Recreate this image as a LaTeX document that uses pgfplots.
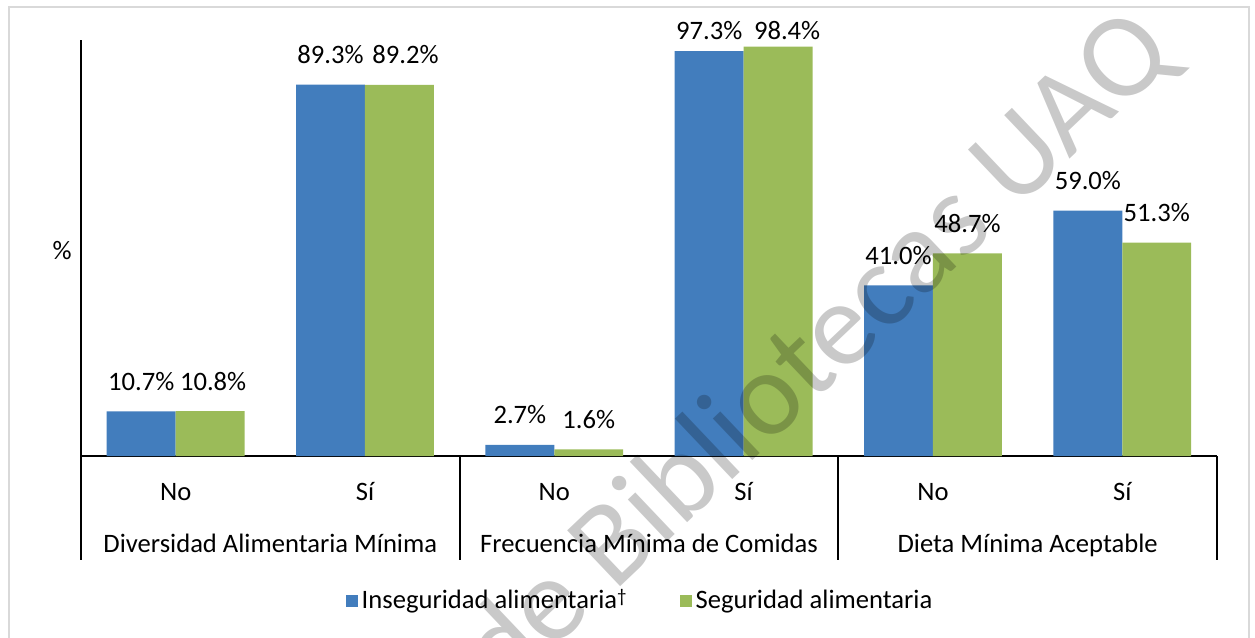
\documentclass[border=0pt]{standalone}
\usepackage{fontspec}
\setmainfont{Carlito}
\usepackage{pgfplots}
\pgfplotsset{compat=1.18}

\definecolor{xlblue}{RGB}{66,125,189}
\definecolor{xlgreen}{RGB}{155,187,89}
\definecolor{framegray}{RGB}{217,217,217}

% x, value, label shift (pt) where Excel nudged a label aside
\pgfplotstableread{
x  y     sh
0  10.7  0
1  89.3  0
2  2.7   0
3  97.3  0
4  41.0  0
5  59.0  0
}\inseguridad
\pgfplotstableread{
x  y     sh
0  10.8  1.5
1  89.2  3
2  1.6   0
3  98.4  4.5
4  48.7  0
5  51.3  0
}\seguridad

\begin{document}
\fontsize{13.3}{16}\selectfont
\begin{tikzpicture}
\useasboundingbox (0,0) rectangle (627.5pt,319pt);
% chart frame (bottom edge lies outside the picture)
\draw[framegray, line width=0.8pt] (4.5pt,-2pt) -- (4.5pt,315.5pt) -- (624.5pt,315.5pt) -- (624.5pt,-2pt);

\begin{axis}[
  at={(40.5pt,91pt)}, anchor=south west,
  scale only axis, width=568pt, height=208pt,
  xmin=-0.5, xmax=5.5, ymin=0, ymax=100,
  axis x line*=bottom, axis y line*=left,
  axis line style={black, line width=1pt, -},
  xtick=\empty, ytick=\empty,
  ybar=0pt, bar width=0.364,
  clip=false,
  /pgf/number format/assume math mode=true,
  visualization depends on=y \as \rawy,
  visualization depends on=\thisrow{sh} \as \lblshift,
  nodes near coords={\pgfmathprintnumber[fixed,fixed zerofill,precision=1]{\pgfplotspointmeta}\%},
  nodes near coords style={anchor=base, black, font=\fontsize{13.3}{16}\selectfont,
    yshift={min(10.5pt,(100.2-\rawy)*2.08pt)}, xshift=\lblshift pt},
  legend image code/.code={\fill[#1] (0pt,-3pt) rectangle (6pt,3pt);},
  legend style={at={(0.493,-0.3486)}, anchor=center, draw=none, fill=none,
    font=\fontsize{13.3}{16}\selectfont, inner sep=0pt,
    /tikz/every even column/.append style={column sep=24.5pt}},
  legend columns=2,
]
\addplot[fill=xlblue, draw=none] table[x=x, y=y] {\inseguridad};
\addplot[fill=xlgreen, draw=none] table[x=x, y=y] {\seguridad};
\legend{Inseguridad alimentaria{\fontsize{9.5}{10}\selectfont\raisebox{3pt}{†}}, Seguridad alimentaria}

% group separators
\pgfplotsinvokeforeach{-0.5,1.5,3.5,5.5}{
  \draw[black, line width=1pt] (axis cs:#1,0) -- ([yshift=-52pt]axis cs:#1,0);
}

% category labels
\node[anchor=base, inner sep=0pt, yshift=-22.3pt] at (axis cs:0,0) {No};
\node[anchor=base, inner sep=0pt, yshift=-22.3pt] at (axis cs:1,0) {Sí};
\node[anchor=base, inner sep=0pt, yshift=-22.3pt] at (axis cs:2,0) {No};
\node[anchor=base, inner sep=0pt, yshift=-22.3pt] at (axis cs:3,0) {Sí};
\node[anchor=base, inner sep=0pt, yshift=-22.3pt] at (axis cs:4,0) {No};
\node[anchor=base, inner sep=0pt, yshift=-22.3pt] at (axis cs:5,0) {Sí};
\node[anchor=base, inner sep=0pt, yshift=-48.3pt] at (axis cs:0.5,0) {Diversidad Alimentaria Mínima};
\node[anchor=base, inner sep=0pt, yshift=-48.3pt] at (axis cs:2.5,0) {Frecuencia Mínima de Comidas};
\node[anchor=base, inner sep=0pt, yshift=-48.3pt] at (axis cs:4.5,0) {Dieta Mínima Aceptable};

% y label
\node[inner sep=0pt] at (rel axis cs:-0.0167,0.495) {\%};
\end{axis}

% watermark
\begin{scope}
\clip (0,0) rectangle (627.5pt,319pt);
\node[anchor=base west, rotate=43.5, inner sep=0pt, opacity=0.21,
  font=\fontsize{60}{62}\selectfont] at (252.5pt,-29pt) {de Bibliotecas UAQ};
\end{scope}
\end{tikzpicture}
\end{document}
